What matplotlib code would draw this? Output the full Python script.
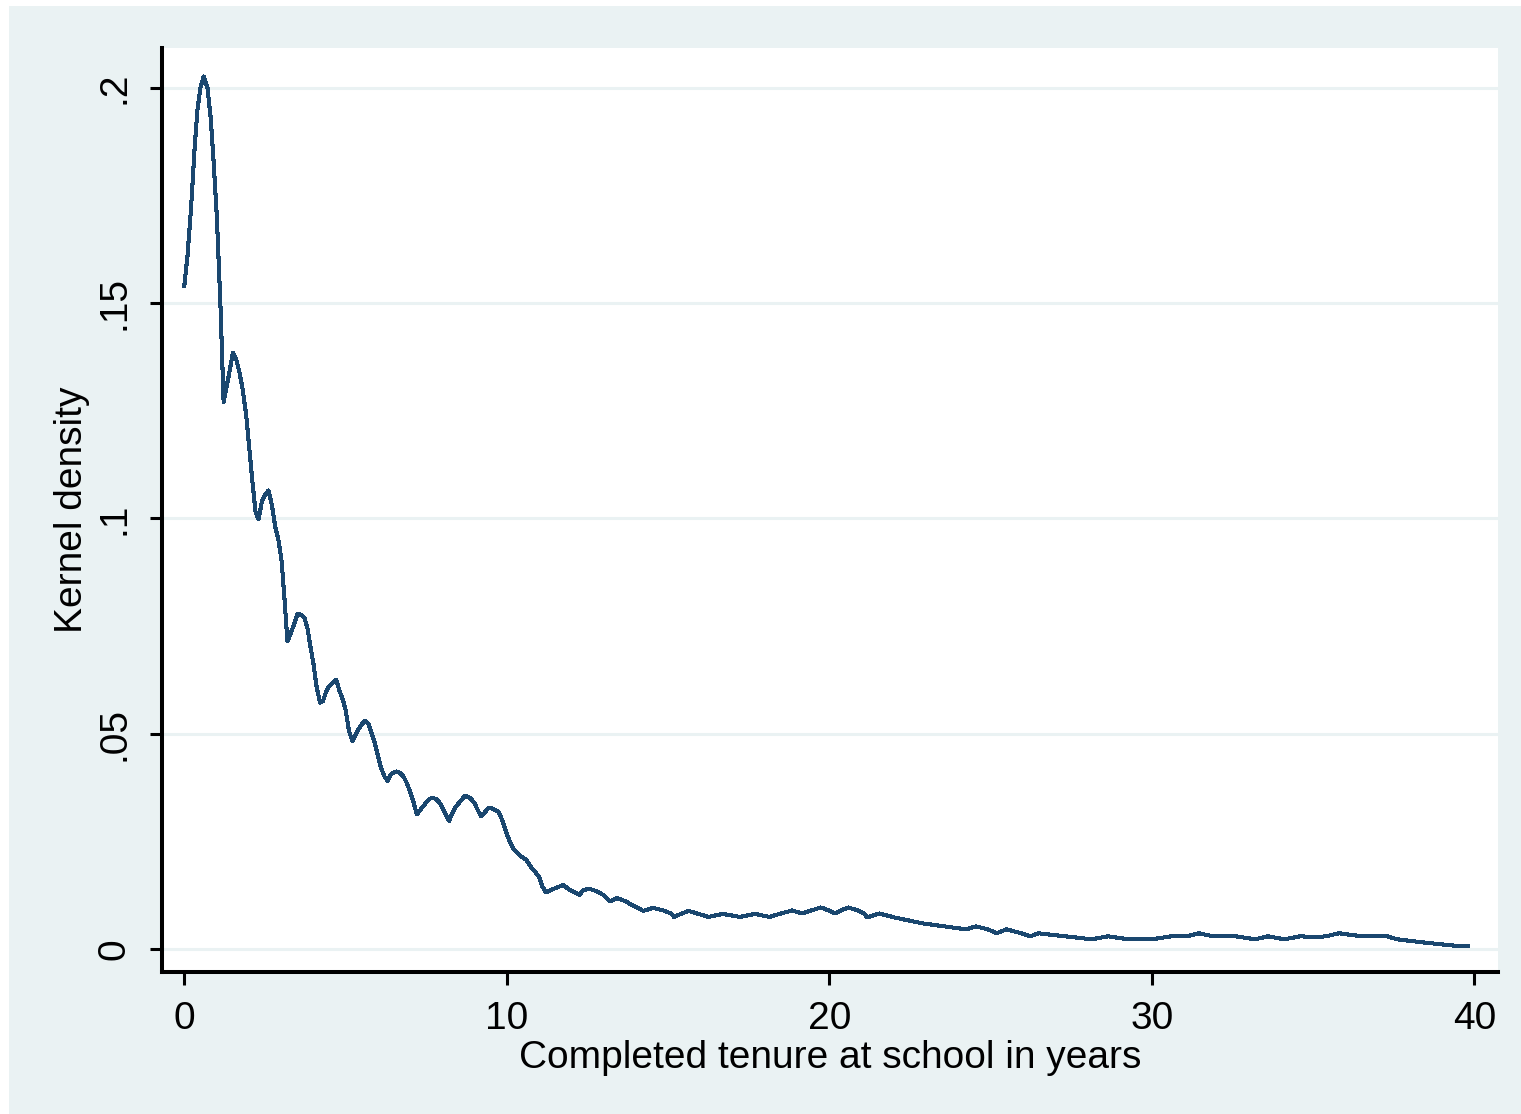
import matplotlib
matplotlib.use("Agg")
import matplotlib.pyplot as plt
from matplotlib.patches import Rectangle

# kernel density estimate of completed tenure (years)
tenure = [
    0.00, 0.10, 0.21, 0.32, 0.41, 0.50, 0.60, 0.72, 0.82, 0.91,
    1.01, 1.12, 1.22, 1.30, 1.40, 1.51, 1.61, 1.71, 1.81, 1.92,
    2.02, 2.12, 2.21, 2.30, 2.41, 2.51, 2.61, 2.72, 2.82, 2.92,
    3.02, 3.11, 3.20, 3.31, 3.41, 3.51, 3.62, 3.72, 3.82, 3.91,
    4.01, 4.10, 4.21, 4.30, 4.40, 4.50, 4.61, 4.71, 4.81, 4.91,
    5.00, 5.11, 5.22, 5.30, 5.40, 5.51, 5.61, 5.71, 5.79, 5.90,
    6.00, 6.10, 6.21, 6.30, 6.40, 6.50, 6.59, 6.70, 6.80, 6.90,
    7.00, 7.11, 7.21, 7.31, 7.42, 7.52, 7.62, 7.71, 7.81, 7.91,
    8.02, 8.11, 8.21, 8.31, 8.42, 8.55, 8.71, 8.86, 8.99, 9.10,
    9.20, 9.31, 9.41, 9.50, 9.64, 9.72, 9.80, 9.90, 10.00, 10.10,
    10.20, 10.29, 10.44, 10.60, 10.70, 10.79, 10.90, 11.01, 11.10, 11.21,
    11.44, 11.75, 11.91, 12.05, 12.25, 12.38, 12.58, 12.84, 12.99, 13.10,
    13.20, 13.41, 13.69, 13.87, 14.06, 14.23, 14.54, 14.90, 15.11, 15.18,
    15.40, 15.63, 15.94, 16.25, 16.69, 17.23, 17.69, 18.14, 18.50, 18.85,
    19.15, 19.45, 19.74, 19.98, 20.18, 20.35, 20.59, 20.88, 21.08, 21.17,
    21.55, 22.00, 22.45, 22.89, 23.58, 24.25, 24.54, 24.92, 25.18, 25.49,
    25.96, 26.24, 26.48, 27.30, 28.13, 28.64, 29.26, 30.00, 30.60, 31.10,
    31.45, 31.90, 32.60, 33.20, 33.60, 34.10, 34.60, 35.10, 35.40, 35.80,
    36.50, 37.30, 37.60, 38.50, 39.40, 39.80,
]
density = [
    0.1540, 0.1610, 0.1720, 0.1860, 0.1950, 0.2000, 0.2027, 0.2000, 0.1930, 0.1830,
    0.1700, 0.1500, 0.1270, 0.1300, 0.1340, 0.1385, 0.1370, 0.1340, 0.1300, 0.1240,
    0.1160, 0.1080, 0.1015, 0.0998, 0.1040, 0.1055, 0.1065, 0.1030, 0.0980, 0.0950,
    0.0900, 0.0810, 0.0714, 0.0735, 0.0755, 0.0778, 0.0776, 0.0770, 0.0745, 0.0703,
    0.0660, 0.0610, 0.0572, 0.0575, 0.0598, 0.0611, 0.0619, 0.0625, 0.0600, 0.0580,
    0.0556, 0.0505, 0.0482, 0.0495, 0.0510, 0.0522, 0.0530, 0.0522, 0.0505, 0.0480,
    0.0450, 0.0420, 0.0400, 0.0390, 0.0405, 0.0410, 0.0412, 0.0408, 0.0400, 0.0385,
    0.0365, 0.0340, 0.0312, 0.0322, 0.0332, 0.0342, 0.0349, 0.0350, 0.0348, 0.0340,
    0.0326, 0.0312, 0.0297, 0.0315, 0.0330, 0.0342, 0.0356, 0.0350, 0.0340, 0.0322,
    0.0308, 0.0316, 0.0326, 0.0328, 0.0322, 0.0320, 0.0310, 0.0290, 0.0266, 0.0248,
    0.0232, 0.0225, 0.0215, 0.0207, 0.0195, 0.0186, 0.0177, 0.0165, 0.0145, 0.0131,
    0.0139, 0.0148, 0.0139, 0.0133, 0.0125, 0.0137, 0.0139, 0.0132, 0.0125, 0.0118,
    0.0110, 0.0118, 0.0110, 0.0102, 0.0095, 0.0088, 0.0095, 0.0088, 0.0081, 0.0074,
    0.0081, 0.0088, 0.0081, 0.0074, 0.0081, 0.0074, 0.0081, 0.0074, 0.0082, 0.0089,
    0.0082, 0.0089, 0.0096, 0.0089, 0.0082, 0.0089, 0.0096, 0.0089, 0.0082, 0.0073,
    0.0082, 0.0073, 0.0066, 0.0059, 0.0052, 0.0045, 0.0052, 0.0045, 0.0036, 0.0045,
    0.0036, 0.0029, 0.0036, 0.0029, 0.0022, 0.0029, 0.0022, 0.0022, 0.0029, 0.0029,
    0.0036, 0.0029, 0.0029, 0.0022, 0.0029, 0.0022, 0.0029, 0.0027, 0.0029, 0.0036,
    0.0029, 0.0029, 0.0022, 0.0014, 0.0007, 0.0006,
]

xticks = [0, 10, 20, 30, 40]
xtick_labels = ["0", "10", "20", "30", "40"]
yticks = [0, 0.05, 0.10, 0.15, 0.20]
ytick_labels = ["0", ".05", ".1", ".15", ".2"]

plt.rcParams["font.family"] = ["Liberation Sans", "DejaVu Sans"]

W, H = 1521, 1114
fig = plt.figure(figsize=(W / 100, H / 100), dpi=100, facecolor="white")

# graph region (Stata s2color style), with a thin white margin top/left
bg = Rectangle((9 / W, 0), 1 - 9 / W, 1 - 6 / H,
               transform=fig.transFigure, facecolor="#EAF2F3",
               edgecolor="none", zorder=-10)
fig.patches.append(bg)

ax = fig.add_axes([162 / W, 1 - 972 / H, (1498 - 162) / W, (972 - 48) / H])
ax.set_facecolor("white")

ax.plot(tenure, density, color="#1A476F", lw=2.2, antialiased=False, zorder=3)

ax.set_xlim(-0.69, 40.73)
ax.set_ylim(-0.0054, 0.2093)

ax.set_xticks(xticks)
ax.set_xticklabels(xtick_labels)
ax.set_yticks(yticks)
ax.set_yticklabels(ytick_labels, rotation=90, va="center", ha="right")

ax.yaxis.grid(True, color="#EAF2F3", lw=2.2, zorder=0)
ax.set_axisbelow(True)

for side in ["top", "right"]:
    ax.spines[side].set_visible(False)
for side in ["left", "bottom"]:
    ax.spines[side].set_linewidth(2.9)
    ax.spines[side].set_color("black")

ax.tick_params(axis="both", length=9, width=2.2, color="black",
               labelsize=28, pad=12)

ax.set_xlabel("Completed tenure at school in years", fontsize=28, labelpad=2)
ax.set_ylabel("Kernel density", fontsize=28, labelpad=5)

fig.savefig("out.png", dpi=100, facecolor=fig.get_facecolor())
